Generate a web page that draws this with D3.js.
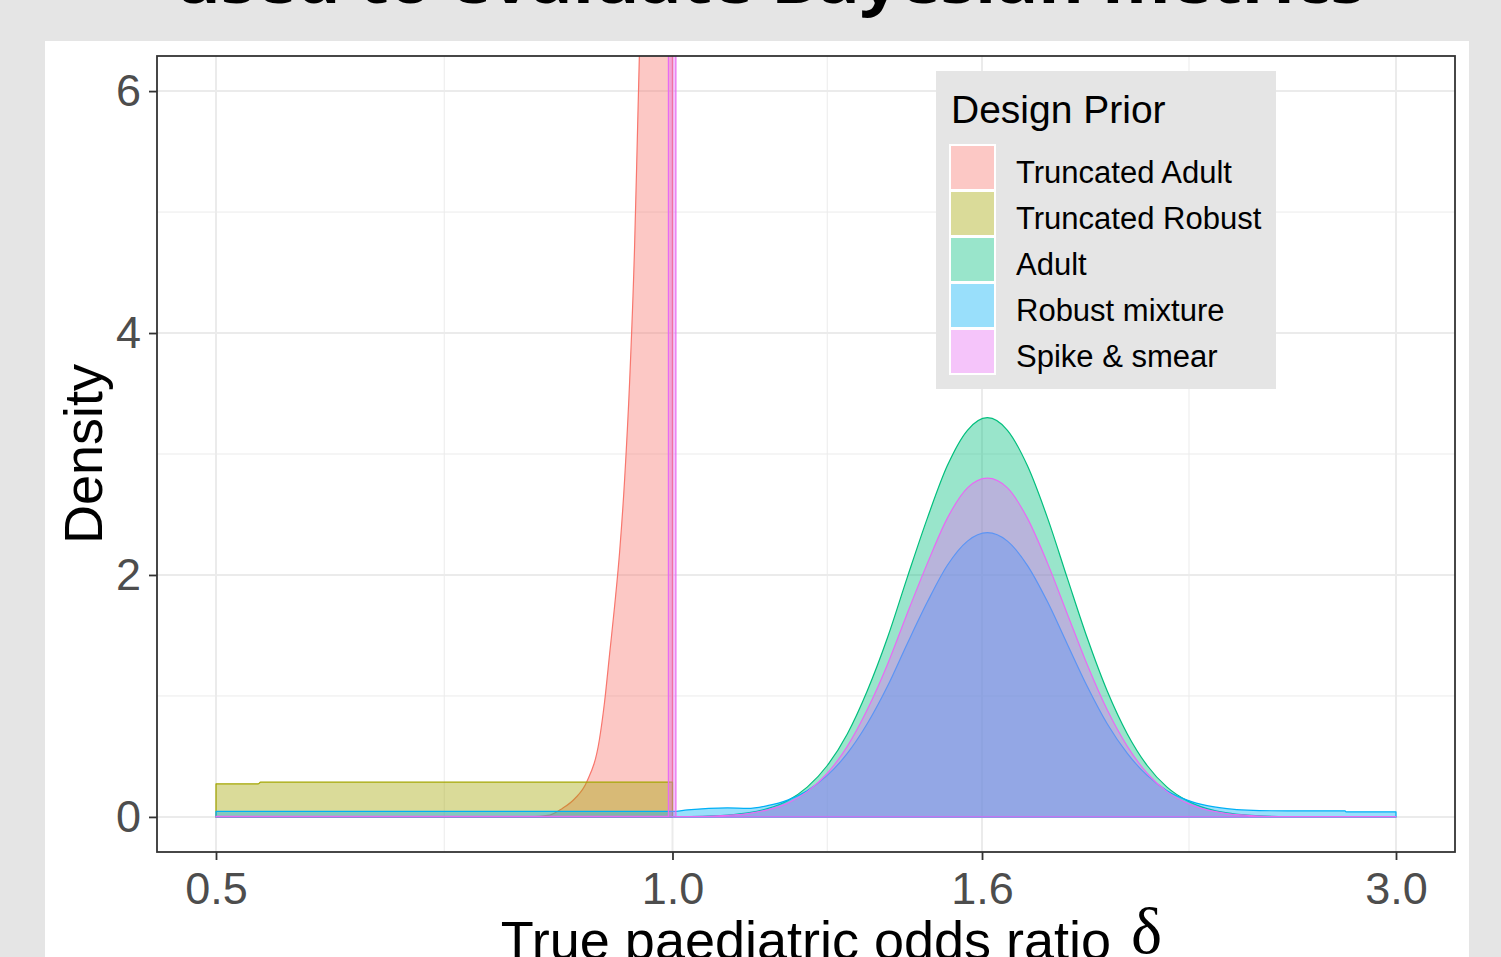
<!DOCTYPE html>
<html>
<head>
<meta charset="utf-8">
<script src="https://cdn.jsdelivr.net/npm/d3@7"></script>
<style>
    html, body { margin: 0; padding: 0; background: #e5e5e5; }
    svg { display: block; }
</style>
</head>
<body>
<script>
// legend order == draw order (ggplot factor order)
const categories = ["Truncated Adult", "Truncated Robust", "Adult", "Robust mixture", "Spike & smear"];
const palette = ["#F8766D", "#A3A500", "#00BF7D", "#00B0F6", "#E76BF3"];

const xTicks = [0.5, 1.0, 1.6, 3.0];
const xTickLabels = ["0.5", "1.0", "1.6", "3.0"];
const yTicks = [0, 2, 4, 6];

// Truncated Adult, truncated at 1 (runs off the top of the panel)
const truncAdultX = [0.5, 0.805, 0.830, 0.846, 0.862, 0.878, 0.895, 0.902, 0.909, 0.916, 0.923,
    0.930, 0.937, 0.944, 0.948, 0.951, 0.958, 0.973, 0.992, 1.0];
const truncAdultY = [0, 0, 0.015, 0.07, 0.15, 0.29, 0.64, 0.95, 1.35, 1.75, 2.2,
    2.8, 3.6, 4.7, 5.6, 6.3, 7.6, 10.5, 14, 15];

// Truncated Robust, nearly flat below 1
const truncRobustX = [0.5, 0.533, 0.535, 1.0];
const truncRobustY = [0.273, 0.273, 0.287, 0.287];

// common grid for the bell shaped priors
const bellX = [1.023, 1.087, 1.121, 1.155, 1.191, 1.227, 1.265, 1.304, 1.344, 1.386, 1.428, 1.473,
    1.518, 1.565, 1.613, 1.663, 1.714, 1.767, 1.821, 1.877, 1.935, 1.995, 2.056, 2.119, 2.185,
    2.252, 2.321, 2.393, 2.543];
const adultY = [0.002, 0.015, 0.033, 0.068, 0.134, 0.246, 0.425, 0.686, 1.041, 1.481, 1.976, 2.474,
    2.904, 3.196, 3.30, 3.196, 2.904, 2.474, 1.976, 1.481, 1.041, 0.686, 0.425, 0.246, 0.134,
    0.068, 0.033, 0.015, 0.002];
const robustY = [0.058, 0.075, 0.07, 0.093, 0.139, 0.217, 0.343, 0.525, 0.77, 1.08, 1.43, 1.78,
    2.08, 2.28, 2.35, 2.28, 2.08, 1.78, 1.43, 1.08, 0.77, 0.525, 0.343, 0.217, 0.139,
    0.093, 0.068, 0.056, 0.05];
const smearY = [0.002, 0.013, 0.028, 0.058, 0.114, 0.209, 0.361, 0.583, 0.885, 1.26, 1.68, 2.10,
    2.47, 2.72, 2.80, 2.72, 2.47, 2.10, 1.68, 1.26, 0.885, 0.583, 0.361, 0.209, 0.114,
    0.058, 0.028, 0.013, 0.002];

// tails outside the bell grid
const adultLeftX = [0.5, 1.0], adultLeftY = [0, 0];
const adultRightX = [3.0], adultRightY = [0];
const robustLeftX = [0.5, 1.0], robustLeftY = [0.045, 0.045];
const robustRightX = [2.777, 2.78, 3.0], robustRightY = [0.05, 0.042, 0.042];
const spikeLeftX = [0.5, 0.9938, 0.994, 1.005, 1.0052], spikeLeftY = [0.005, 0.005, 40, 40, 0.005];
const spikeRightX = [3.0], spikeRightY = [0.002];

const W = 1501, H = 957;
const panel = {left: 157, top: 56, right: 1455, bottom: 852};

function zipPts(xs, ys) {
    return xs.map(function (x, i) { return {x: x, y: ys[i]}; });
}

const seriesData = [
    zipPts(truncAdultX, truncAdultY),
    zipPts(truncRobustX, truncRobustY),
    zipPts(adultLeftX.concat(bellX, adultRightX), adultLeftY.concat(adultY, adultRightY)),
    zipPts(robustLeftX.concat(bellX, robustRightX), robustLeftY.concat(robustY, robustRightY)),
    zipPts(spikeLeftX.concat(bellX, spikeRightX), spikeLeftY.concat(smearY, spikeRightY))
];

const svg = d3.select("body").append("svg")
    .attr("width", W).attr("height", H);

svg.append("rect").attr("width", W).attr("height", H).style("fill", "#e5e5e5");
svg.append("rect")
    .attr("x", 45).attr("y", 41).attr("width", 1424).attr("height", H)
    .style("fill", "#ffffff");

// cropped slide title
svg.append("text")
    .attr("x", 175).attr("y", 3)
    .attr("textLength", 1190).attr("lengthAdjust", "spacingAndGlyphs")
    .style("font-family", "'Open Sans', sans-serif").style("font-weight", 700)
    .style("font-size", "60px").style("fill", "#000")
    .text("used to evaluate Bayesian metrics");

// scales, with ggplot's 5% expansion on the log axis
const lx0 = Math.log(xTicks[0]), lx1 = Math.log(xTicks[xTicks.length - 1]);
const pad = 0.05 * (lx1 - lx0);
const x = d3.scaleLog()
    .domain([Math.exp(lx0 - pad), Math.exp(lx1 + pad)])
    .range([panel.left, panel.right]);
const y = d3.scaleLinear()
    .domain([-0.29, 6.29])
    .range([panel.bottom, panel.top]);

svg.append("defs").append("clipPath").attr("id", "panelClip")
    .append("rect")
    .attr("x", panel.left).attr("y", panel.top)
    .attr("width", panel.right - panel.left).attr("height", panel.bottom - panel.top);

const g = svg.append("g");

// grid
const xMinor = d3.pairs(xTicks).map(function (p) { return Math.sqrt(p[0] * p[1]); });
const yMinor = d3.pairs(yTicks).map(function (p) { return (p[0] + p[1]) / 2; });

g.selectAll(".xminor").data(xMinor).join("line")
    .attr("x1", d => x(d)).attr("x2", d => x(d))
    .attr("y1", panel.top).attr("y2", panel.bottom)
    .style("stroke", "#ebebeb").style("stroke-width", 1);
g.selectAll(".yminor").data(yMinor).join("line")
    .attr("x1", panel.left).attr("x2", panel.right)
    .attr("y1", d => y(d)).attr("y2", d => y(d))
    .style("stroke", "#ebebeb").style("stroke-width", 1);
g.selectAll(".xmajor").data(xTicks).join("line")
    .attr("x1", d => x(d)).attr("x2", d => x(d))
    .attr("y1", panel.top).attr("y2", panel.bottom)
    .style("stroke", "#ebebeb").style("stroke-width", 2);
g.selectAll(".ymajor").data(yTicks).join("line")
    .attr("x1", panel.left).attr("x2", panel.right)
    .attr("y1", d => y(d)).attr("y2", d => y(d))
    .style("stroke", "#ebebeb").style("stroke-width", 2);

// densities
const area = d3.area()
    .curve(d3.curveMonotoneX)
    .x(d => x(d.x))
    .y0(y(0))
    .y1(d => y(d.y));

g.append("g").attr("clip-path", "url(#panelClip)")
    .selectAll("path").data(seriesData).join("path")
    .attr("d", area)
    .style("fill", (d, i) => palette[i]).style("fill-opacity", 0.4)
    .style("stroke", (d, i) => palette[i]).style("stroke-width", 1.2)
    .style("stroke-linejoin", "round");

// panel border
g.append("rect")
    .attr("x", panel.left).attr("y", panel.top)
    .attr("width", panel.right - panel.left).attr("height", panel.bottom - panel.top)
    .style("fill", "none").style("stroke", "#333333").style("stroke-width", 1.8);

// axes
const xAxis = d3.axisBottom(x).tickValues(xTicks)
    .tickFormat((d, i) => xTickLabels[i]).tickSize(8).tickPadding(12);
const yAxis = d3.axisLeft(y).tickValues(yTicks)
    .tickFormat(d3.format("d")).tickSize(8).tickPadding(8);

const gx = svg.append("g").attr("transform", `translate(0,${panel.bottom})`).call(xAxis);
const gy = svg.append("g").attr("transform", `translate(${panel.left},0)`).call(yAxis);
[gx, gy].forEach(function (ax) {
    ax.select(".domain").remove();
    ax.selectAll(".tick line").style("stroke", "#333333").style("stroke-width", 1.8);
    ax.selectAll(".tick text")
        .style("font-family", "'Liberation Sans', Arial, sans-serif")
        .style("font-size", "45px").style("fill", "#4d4d4d");
});

// axis titles
svg.append("text")
    .attr("transform", `translate(102,${(panel.top + panel.bottom) / 2}) rotate(-90)`)
    .attr("text-anchor", "middle")
    .style("font-family", "'Liberation Sans', Arial, sans-serif")
    .style("font-size", "54px").style("fill", "#000")
    .text("Density");

svg.append("text")
    .attr("x", (panel.left + panel.right) / 2).attr("y", 959)
    .attr("text-anchor", "middle")
    .style("font-family", "'Liberation Sans', Arial, sans-serif")
    .style("font-size", "54px").style("fill", "#000")
    .text("True paediatric odds ratio");

svg.append("text")
    .attr("x", 1131).attr("y", 953)
    .style("font-family", "'Liberation Serif', 'Times New Roman', serif")
    .style("font-size", "66px").style("fill", "#000")
    .text("δ");

// legend
const lg = svg.append("g");
lg.append("rect")
    .attr("x", 936).attr("y", 71).attr("width", 340).attr("height", 318)
    .style("fill", "#e5e5e5");
lg.append("text")
    .attr("x", 951).attr("y", 123)
    .style("font-family", "'Liberation Sans', Arial, sans-serif")
    .style("font-size", "39px").style("fill", "#000")
    .text("Design Prior");

const keys = lg.selectAll(".key").data(categories).join("g")
    .attr("transform", (d, i) => `translate(949,${144 + i * 46})`);
keys.append("rect")
    .attr("width", 47).attr("height", 47).style("fill", "#ffffff");
keys.append("rect")
    .attr("x", 2).attr("y", 2).attr("width", 43).attr("height", 43)
    .style("fill", (d, i) => palette[i]).style("fill-opacity", 0.4);
keys.append("text")
    .attr("x", 67).attr("y", 39)
    .style("font-family", "'Liberation Sans', Arial, sans-serif")
    .style("font-size", "31px").style("fill", "#000")
    .text(d => d);
</script>
</body>
</html>
